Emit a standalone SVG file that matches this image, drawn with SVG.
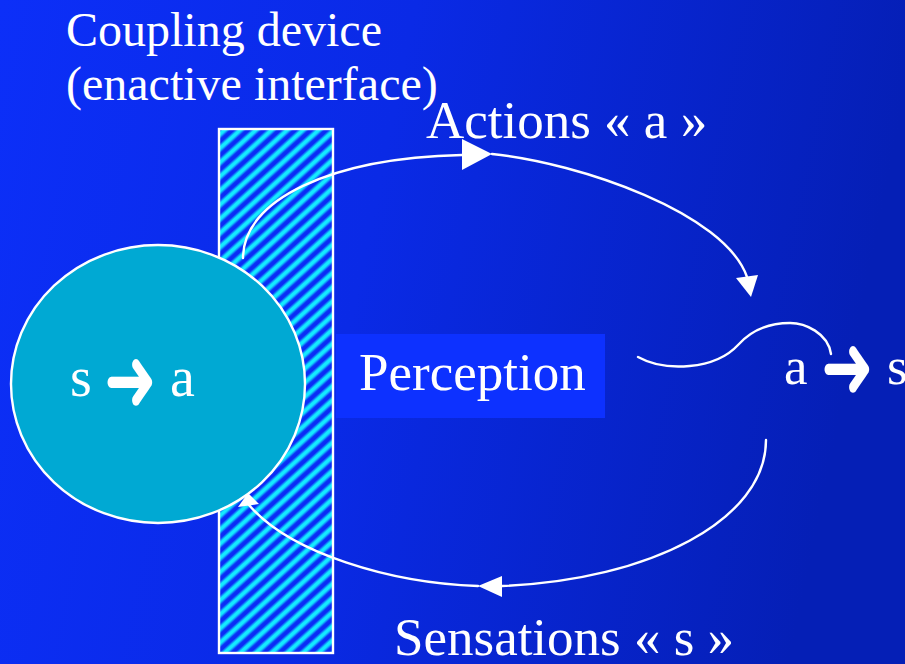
<svg xmlns="http://www.w3.org/2000/svg" width="905" height="664" viewBox="0 0 905 664">
  <defs>
    <linearGradient id="bg" x1="0" y1="0" x2="1" y2="0.15">
      <stop offset="0" stop-color="#0c2ff8"/>
      <stop offset="0.45" stop-color="#0a2ae6"/>
      <stop offset="1" stop-color="#051fb6"/>
    </linearGradient>
    <!-- soft cyan stripe across one period -->
    <linearGradient id="stripe" x1="0" y1="0" x2="1" y2="0">
      <stop offset="0" stop-color="#0b2cf6"/>
      <stop offset="0.15" stop-color="#0b2cf6"/>
      <stop offset="0.4" stop-color="#14eaff"/>
      <stop offset="0.62" stop-color="#14eaff"/>
      <stop offset="0.88" stop-color="#0b2cf6"/>
      <stop offset="1" stop-color="#0b2cf6"/>
    </linearGradient>
    <pattern id="hatch" patternUnits="userSpaceOnUse" width="10.5" height="12" patternTransform="rotate(48)">
      <rect x="0" y="0" width="10.5" height="12" fill="url(#stripe)"/>
    </pattern>
  </defs>
  <style>
    .lbl { font-family: "Liberation Serif", "Times New Roman", serif; fill: #ffffff; }
    .arr { font-family: "DejaVu Sans", sans-serif; fill: #ffffff; font-size: 63px; }
    .edge { fill: none; stroke: #ffffff; stroke-width: 2.4; stroke-linecap: round; }
    .head { fill: #ffffff; stroke: none; }
  </style>

  <!-- backdrop -->
  <rect x="0" y="0" width="905" height="664" fill="url(#bg)"/>

  <!-- hatched coupling device with its caption -->
  <g id="coupling-device">
    <rect x="219" y="129" width="114" height="524" fill="url(#hatch)" stroke="#ffffff" stroke-width="2.4"/>
    <text class="lbl" x="66" y="46" font-size="48">Coupling device</text>
    <text class="lbl" x="66" y="100" font-size="48">(enactive interface)</text>
  </g>

  <!-- agent: sensation to action -->
  <g id="agent">
    <ellipse cx="158" cy="384" rx="147" ry="139" fill="#00a9d3" stroke="#ffffff" stroke-width="2.4"/>
    <text class="lbl" x="70" y="396" font-size="56">s</text>
    <text class="arr" transform="translate(104,411) scale(1,1.45)">➜</text>
    <text class="lbl" x="170" y="396" font-size="56">a</text>
  </g>

  <!-- perception box -->
  <g id="perception">
    <rect x="336" y="334" width="269" height="84" fill="#0d31ff"/>
    <text class="lbl" x="359" y="390" font-size="53">Perception</text>
  </g>

  <!-- environment: action to sensation -->
  <g id="environment">
    <text class="lbl" x="784" y="384" font-size="53">a</text>
    <text class="arr" transform="translate(821,398) scale(1,1.45)">➜</text>
    <text class="lbl" x="887" y="384" font-size="53">s</text>
  </g>

  <!-- loop of actions and sensations -->
  <g id="connectors">
    <path class="edge" d="M243,258 C243,200 330,158 462,155"/>
    <polygon class="head" points="462,139 462,170 492,154"/>
    <path class="edge" d="M492,154 C580,163 725,213 747,277"/>
    <polygon class="head" points="736,278 758,275 751,297"/>

    <path class="edge" d="M766,440 C766,520 650,580 502,586"/>
    <polygon class="head" points="502,576 502,597 478,586"/>
    <path class="edge" d="M478,586 C390,583 290,553 249,505"/>
    <polygon class="head" points="238,507 259,504 248,493"/>

    <path class="edge" d="M638,357 C665,372 715,370 738,345 C755,326 775,323 790,323 C805,323 828,333 831,354"/>

    <text class="lbl" x="426" y="138" font-size="53">Actions « a »</text>
    <text class="lbl" x="394" y="655" font-size="53">Sensations « s »</text>
  </g>
</svg>
